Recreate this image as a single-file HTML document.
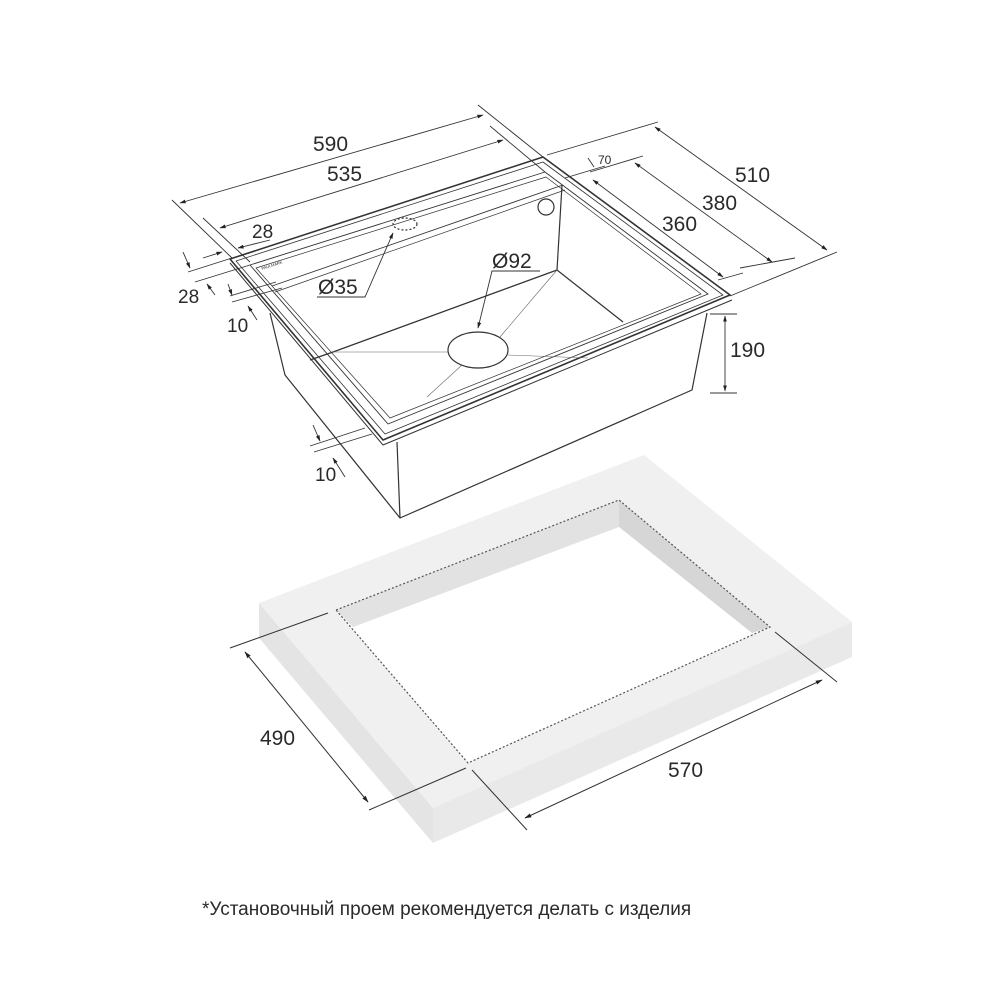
<!DOCTYPE html>
<html><head><meta charset="utf-8"><style>
html,body{margin:0;padding:0;background:#fff;}
svg{display:block;}
text{font-family:"Liberation Sans",sans-serif;fill:#2a2a2a;}
</style></head><body>
<svg width="1000" height="1000" viewBox="0 0 1000 1000" xmlns="http://www.w3.org/2000/svg">
<defs>
<marker id="a" viewBox="0 0 10 10" refX="9" refY="5" markerWidth="7" markerHeight="7" orient="auto-start-reverse"><path d="M0,2 L10,5 L0,8 z" fill="#222"/></marker>
</defs>

<!-- Countertop -->
<polygon points="259,603 259,638 433,843 433,808" fill="#e4e4e4"/>
<polygon points="433,808 433,843 852,657 852,622" fill="#e9e9e9"/>
<polygon points="259,603 644,455 852,622 433,808" fill="#f0f0f0"/>
<polygon points="336,610 619,500 770,627 468,763" fill="#fff"/>
<polygon points="336,610 619,500 619,527 353,627" fill="#e2e2e2"/>
<polygon points="619,500 770,627 752,633 619,527" fill="#d6d6d6"/>
<polygon points="336,610 619,500 770,627 468,763" fill="none" stroke="#555" stroke-width="1.2" stroke-dasharray="2,2"/>

<g stroke="#333" stroke-width="1" fill="none">
<line x1="230" y1="648" x2="328" y2="613"/>
<line x1="369" y1="810" x2="466" y2="768"/>
<line x1="245" y1="652" x2="368" y2="802" marker-start="url(#a)" marker-end="url(#a)"/>
<line x1="472" y1="770" x2="527" y2="830"/>
<line x1="775" y1="632" x2="837" y2="682"/>
<line x1="525" y1="818" x2="822" y2="680" marker-start="url(#a)" marker-end="url(#a)"/>
</g>
<text x="260" y="745" font-size="21">490</text>
<text x="668" y="777" font-size="21">570</text>

<!-- Sink body -->
<g stroke="#333" stroke-width="1.2" fill="none" stroke-linejoin="round">
<polyline points="270,313 285,375 400,518 692,390 707,313"/>
<line x1="397" y1="442" x2="400" y2="518"/>
<polygon points="230,259 543,157 730,295 383,440" fill="#fff" stroke-width="1.6"/>
<polyline points="230,263 383,445 732,300" stroke-width="1"/>
<polygon points="236,261 543,162 723,295 385,434" stroke-width="0.8"/>
<polygon points="250,265 545,172 708,294 388,424" stroke-width="0.9"/>
<polygon points="256,268 546,177 701,294 390,418" stroke-width="0.7"/>
<line x1="272" y1="286" x2="563" y2="185" stroke-width="0.9"/>
<line x1="275" y1="292" x2="565" y2="190" stroke-width="0.7"/>
<line x1="562" y1="185" x2="557" y2="270"/>
<line x1="333" y1="352" x2="557" y2="270"/>
<line x1="557" y1="270" x2="623" y2="322"/>
<line x1="333" y1="352" x2="310" y2="360"/>
<g stroke-width="0.6" stroke="#666">
<line x1="333" y1="352" x2="448" y2="352"/>
<line x1="557" y1="270" x2="500" y2="337"/>
<line x1="508" y1="355" x2="588" y2="358"/>
<line x1="462" y1="365" x2="427" y2="397"/>
</g>
<ellipse cx="478" cy="350" rx="30" ry="18" fill="#fff"/>
<circle cx="546" cy="207" r="8" fill="#fff"/>
<ellipse cx="405" cy="224" rx="12" ry="6" stroke-dasharray="2,2"/>
</g>
<text x="262" y="270" font-size="4" fill="#777" transform="rotate(-18 262 270)">PAULMARK</text>

<g stroke="#333" stroke-width="0.9" fill="none">
<line x1="172" y1="200" x2="232" y2="258"/>
<line x1="478" y1="105" x2="543" y2="157"/>
<line x1="180" y1="203" x2="483" y2="115" marker-start="url(#a)" marker-end="url(#a)"/>
<line x1="203" y1="218" x2="250" y2="262"/>
<line x1="490" y1="126" x2="545" y2="172"/>
<line x1="220" y1="228" x2="503" y2="140" marker-start="url(#a)" marker-end="url(#a)"/>
<line x1="203" y1="258" x2="222" y2="252" marker-end="url(#a)"/>
<line x1="270" y1="240" x2="238" y2="248" marker-end="url(#a)"/>
<line x1="188" y1="272" x2="232" y2="258"/>
<line x1="195" y1="282" x2="250" y2="265"/>
<line x1="183" y1="252" x2="190" y2="268" marker-end="url(#a)"/>
<line x1="215" y1="295" x2="207" y2="284" marker-end="url(#a)"/>
<line x1="230" y1="296" x2="276" y2="282"/>
<line x1="232" y1="302" x2="282" y2="288"/>
<line x1="228" y1="284" x2="232" y2="295" marker-end="url(#a)"/>
<line x1="257" y1="320" x2="248" y2="306" marker-end="url(#a)"/>
<line x1="310" y1="446" x2="365" y2="428"/>
<line x1="314" y1="452" x2="372" y2="434"/>
<line x1="313" y1="425" x2="320" y2="441" marker-end="url(#a)"/>
<line x1="345" y1="477" x2="333" y2="458" marker-end="url(#a)"/>
<polyline points="317,297 365,297 393,233" marker-end="url(#a)"/>
<polyline points="540,271 492,271 478,328" marker-end="url(#a)"/>
<line x1="547" y1="155" x2="658" y2="122"/>
<line x1="730" y1="296" x2="837" y2="252"/>
<line x1="655" y1="127" x2="827" y2="250" marker-start="url(#a)" marker-end="url(#a)"/>
<line x1="590" y1="172" x2="643" y2="156"/>
<line x1="740" y1="268" x2="795" y2="258"/>
<line x1="635" y1="163" x2="772" y2="262" marker-start="url(#a)" marker-end="url(#a)"/>
<line x1="565" y1="178" x2="605" y2="166"/>
<line x1="718" y1="280" x2="743" y2="273"/>
<line x1="593" y1="180" x2="723" y2="277" marker-start="url(#a)" marker-end="url(#a)"/>
<line x1="588" y1="158" x2="594" y2="167"/>
<line x1="710" y1="314" x2="737" y2="314"/>
<line x1="710" y1="393" x2="737" y2="393"/>
<line x1="725" y1="316" x2="725" y2="391" marker-start="url(#a)" marker-end="url(#a)"/>
</g>
<g font-size="21">
<text x="313" y="151">590</text>
<text x="327" y="181">535</text>
<text x="252" y="238" font-size="19">28</text>
<text x="178" y="303" font-size="19">28</text>
<text x="227" y="332" font-size="19">10</text>
<text x="315" y="481" font-size="19">10</text>
<text x="318" y="294">Ø35</text>
<text x="492" y="268">Ø92</text>
<text x="735" y="182">510</text>
<text x="702" y="210">380</text>
<text x="662" y="231">360</text>
<text x="598" y="164" font-size="12">70</text>
<text x="730" y="357">190</text>
</g>

<text x="202" y="915" font-size="19" style='font-family:"Liberation Sans","DejaVu Sans",sans-serif'>*Установочный проем рекомендуется делать с изделия</text>
</svg>
</body></html>
